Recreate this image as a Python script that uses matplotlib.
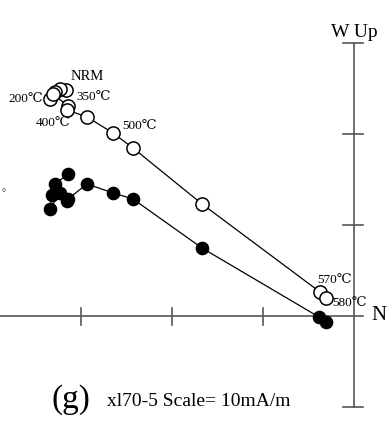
"""Orthogonal (Zijderveld) demagnetisation plot for sample xl70-5."""

from matplotlib import pyplot as plt

# Data in scale units (1 unit = one tick), N to the right, W/Up upward.
# Horizontal projection (N vs W), filled symbols.
horN = [-3.143, -3.286, -3.231, -3.341, -3.319, -3.154, -3.143, -2.934, -2.648, -2.429, -1.670, -0.385, -0.308]
horW = [1.560, 1.451, 1.352, 1.176, 1.330, 1.264, 1.286, 1.451, 1.352, 1.286, 0.747, -0.011, -0.066]
# Vertical projection (N vs Up), open symbols.
verN = [-3.165, -3.231, -3.286, -3.341, -3.308, -3.143, -3.154, -2.934, -2.648, -2.429, -1.670, -0.374, -0.308]
verUp = [2.484, 2.495, 2.462, 2.385, 2.440, 2.308, 2.264, 2.187, 2.011, 1.846, 1.231, 0.264, 0.198]

stepLabels = ["NRM", "200℃", "350℃", "400℃", "500℃", "570℃", "580℃"]
labelPositions = [(-2.934, 2.63), (-3.418, 2.385), (-3.055, 2.407), (-3.308, 2.121), (-2.549, 2.088), (-0.407, 0.396), (-0.242, 0.143)]
labelAligns = ["center", "right", "left", "center", "left", "left", "left"]
labelSizes = [10.5, 9.5, 9.5, 9.5, 9.5, 9.5, 9.5]

axisTicks = [-3, -2, -1]
vertTicks = [1, 2]

plt.rcParams["font.family"] = ["Liberation Serif", "DejaVu Serif"]

fig = plt.figure(figsize=(3.9, 4.24), dpi=100)
ax = fig.add_axes([0, 0, 1, 1])
ax.set_xlim(-354 / 91, 36 / 91)
ax.set_ylim(-108 / 91, 316 / 91)
ax.axis("off")

axisColour = "#555555"
# Axes through the origin.
ax.plot([-4.0, 0.1], [0, 0], color=axisColour, lw=1.2)
ax.plot([0, 0], [-1, 3], color=axisColour, lw=1.2)
for t in axisTicks:
    ax.plot([t, t], [-0.1, 0.09], color=axisColour, lw=1.2)
for t in vertTicks + [3, -1]:
    ax.plot([-0.12, 0.1], [t, t], color=axisColour, lw=1.2)

# Projections.
ax.plot(verN, verUp, color="black", lw=0.9, marker="o", ms=9.5, mfc="white", mec="black", mew=1.1)
ax.plot(horN, horW, color="black", lw=0.9, marker="o", ms=8.8, mfc="black", mec="black")

for text, (x, y), ha, fs in zip(stepLabels, labelPositions, labelAligns, labelSizes):
    ax.text(x, y, text, ha=ha, va="center", fontsize=fs)

ax.text(0, 3.02, "W Up", ha="center", va="bottom", fontsize=14)
ax.text(0.19, 0, "N", ha="left", va="center", fontsize=15)
ax.text(-3.85, 1.34, "°", ha="center", va="center", fontsize=7)

ax.text(-3.32, -0.92, "(g)", ha="left", va="center", fontsize=24)
ax.text(-2.71, -0.94, "xl70-5 Scale= 10mA/m", ha="left", va="center", fontsize=14)

fig.savefig("out.png", dpi=100)
